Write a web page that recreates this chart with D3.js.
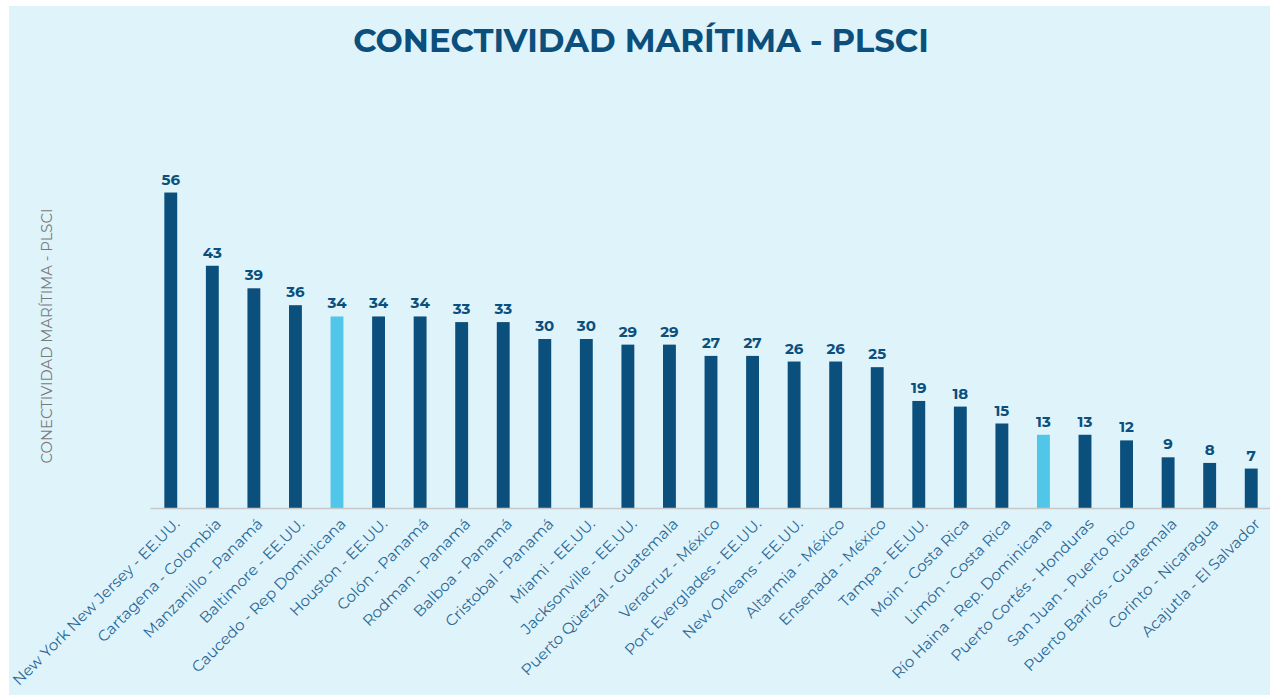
<!DOCTYPE html>
<html>
<head>
<meta charset="utf-8">
<script src="https://cdn.jsdelivr.net/npm/d3@7"></script>
<style>
  body { margin: 0; background: #fff; }
  svg { display: block; }
  text { font-family: Montserrat, "DejaVu Sans", sans-serif; }
</style>
</head>
<body>
<div id="chart"></div>
<script>
// puertos y valores PLSCI
let ports = [
  'New York New Jersey - EE.UU.', 'Cartagena - Colombia', 'Manzanillo - Panamá',
  'Baltimore - EE.UU.', 'Caucedo - Rep Dominicana', 'Houston - EE.UU.',
  'Colón - Panamá', 'Rodman - Panamá', 'Balboa - Panamá', 'Cristobal - Panamá',
  'Miami - EE.UU.', 'Jacksonville - EE.UU.', 'Puerto Qüetzal - Guatemala',
  'Veracruz - México', 'Port Everglades -  EE.UU.', 'New Orleans - EE.UU.',
  'Altarmia - México', 'Ensenada - México', 'Tampa - EE.UU.', 'Moin - Costa Rica',
  'Limón - Costa Rica', 'Río Haina - Rep. Dominicana', 'Puerto Cortés - Honduras',
  'San Juan - Puerto Rico', 'Puerto Barrios - Guatemala', 'Corinto - Nicaragua',
  'Acajutla - El Salvador'
];
let plsci = [56, 43, 39, 36, 34, 34, 34, 33, 33, 30, 30, 29, 29, 27, 27, 26, 26, 25, 19, 18, 15, 13, 13, 12, 9, 8, 7];
let highlighted = ['Caucedo - Rep Dominicana', 'Río Haina - Rep. Dominicana'];

let svgWidth = 1270,
    svgHeight = 695;

let data = ports.map((p, i) => ({ port: p, value: plsci[i] }));

let svg = d3.select('#chart')
  .append('svg')
  .attr('width', svgWidth)
  .attr('height', svgHeight);

// fondo
svg.append('rect')
  .attr('x', 9).attr('y', 6)
  .attr('width', svgWidth - 9).attr('height', svgHeight - 6)
  .attr('fill', '#dff3fb');

let baseY = 508;

let xScale = d3.scaleBand()
  .domain(ports)
  .range([150, 1272])
  .paddingInner(0.69)
  .paddingOuter(0.345);

let yScale = d3.scaleLinear()
  .domain([0, 60])
  .range([baseY, 170]);

// titulo
svg.append('text')
  .attr('x', 641).attr('y', 52)
  .attr('text-anchor', 'middle')
  .attr('font-size', 32.3)
  .attr('font-weight', 'bold')
  .attr('fill', '#0b4f7c')
  .text('CONECTIVIDAD MARÍTIMA - PLSCI');

// etiqueta eje y
svg.append('text')
  .attr('transform', `translate(52, 336) rotate(-90)`)
  .attr('text-anchor', 'middle')
  .attr('font-size', 14.8)
  .attr('fill', '#7a7a7a')
  .text('CONECTIVIDAD MARÍTIMA - PLSCI');

// barras
svg.append('g')
  .selectAll('rect')
  .data(data)
  .join('rect')
  .attr('x', d => xScale(d.port))
  .attr('y', d => yScale(d.value))
  .attr('width', xScale.bandwidth())
  .attr('height', d => baseY - yScale(d.value))
  .attr('fill', d => highlighted.includes(d.port) ? '#50c7e9' : '#0b4f7c');

// valores
svg.append('g')
  .selectAll('text')
  .data(data)
  .join('text')
  .attr('x', d => xScale(d.port) + xScale.bandwidth() / 2)
  .attr('y', d => yScale(d.value) - 8)
  .attr('text-anchor', 'middle')
  .attr('font-size', 15)
  .attr('font-weight', 'bold')
  .attr('fill', '#0b4f7c')
  .text(d => d.value);

// eje x
let xAxis = svg.append('g')
  .attr('transform', `translate(0, ${baseY})`)
  .call(d3.axisBottom(xScale).tickSize(0).tickSizeOuter(0));

xAxis.select('.domain').attr('stroke', '#c8c8c8').attr('stroke-width', 1.5);

xAxis.selectAll('text')
  .attr('font-family', 'Montserrat, "DejaVu Sans", sans-serif')
  .attr('font-size', 15.3)
  .attr('fill', '#2a6896')
  .attr('text-anchor', 'end')
  .attr('transform', 'translate(6, 13) rotate(-45)')
  .attr('dy', '0.35em')
  .attr('y', 0)
  .attr('x', 0);
</script>
</body>
</html>
